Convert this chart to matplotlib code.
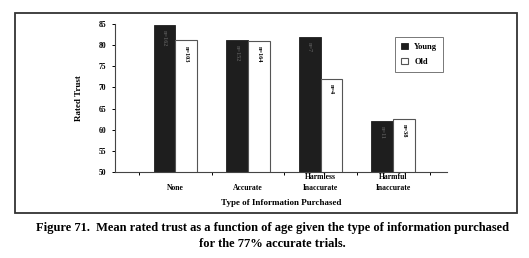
import numpy as np
import matplotlib.pyplot as plt
from matplotlib.patches import Rectangle

plt.rcParams['font.family'] = ['Liberation Serif', 'DejaVu Serif']
plt.rcParams['font.weight'] = 'bold'

# values
categories = ["None", "Accurate", "Harmless\nInaccurate", "Harmful\nInaccurate"]
young = [84.7, 81.3, 82.0, 62.1]
old = [81.1, 80.9, 72.0, 62.6]
young_n = ["n=162", "n=152", "n=7", "n=11"]
old_n = ["n=103", "n=164", "n=4", "n=38"]

W, H = 529, 258
fig = plt.figure(figsize=(W / 100, H / 100), dpi=100)

# outer frame around the chart
fig.patches.append(Rectangle((15 / W, 1 - 213 / H), (517 - 15) / W, (213 - 13) / H,
                             transform=fig.transFigure, fill=False,
                             edgecolor="#333333", lw=1.3))

ax = fig.add_axes([115 / W, 1 - 172 / H, (447 - 115) / W, (172 - 24) / H])

x = np.arange(len(categories))
w = 0.3
ax.bar(x - w / 2, young, w, color="#1e1e1e", edgecolor="#1e1e1e", lw=0.6,
       label="Young")
ax.bar(x + w / 2, old, w, color="white", edgecolor="#555555", lw=0.8, label="Old")

for xi, v, s in zip(x, young, young_n):
    ax.text(xi - w / 2, v - 1.2, s, rotation=270, ha="center", va="top",
            fontsize=4.5, color="#555555")
for xi, v, s in zip(x, old, old_n):
    ax.text(xi + w / 2, v - 1.2, s, rotation=270, ha="center", va="top",
            fontsize=4.5, color="black")

ax.set_ylim(50, 85)
ax.set_xlim(-0.83, 3.74)
ax.set_yticks(np.arange(50, 86, 5))
ax.set_yticklabels([str(t) for t in range(50, 86, 5)], fontsize=5.5, fontweight="bold")
ax.tick_params(axis="y", length=2.5, width=0.7, pad=4)
ax.set_xticks(np.arange(-0.5, 3.6, 1.0))
ax.set_xticklabels([])
ax.tick_params(axis="x", length=2.5, width=0.7)
for xi, c in zip(x, categories):
    ax.text(xi, -20 / 148, c, transform=ax.get_xaxis_transform(), ha="center",
            va="bottom", fontsize=5.5, fontweight="bold", linespacing=1.45)
for sp in ["top", "right"]:
    ax.spines[sp].set_visible(False)
for sp in ["left", "bottom"]:
    ax.spines[sp].set_color("#444444")
    ax.spines[sp].set_linewidth(0.8)

ax.set_ylabel("Rated Trust", fontsize=6.5, fontweight="bold", labelpad=11)
fig.text(281 / W, 1 - 203 / H, "Type of Information Purchased", ha="center",
         va="center", fontsize=6.5, fontweight="bold")

leg = fig.legend(loc="upper left", bbox_to_anchor=(395 / W, 1 - 37 / H),
                 prop={"size": 6, "weight": "bold"}, frameon=True, fancybox=False,
                 edgecolor="#555555", handlelength=0.8, handleheight=0.8,
                 borderpad=0.7, labelspacing=0.8, borderaxespad=0)
leg.get_frame().set_linewidth(0.7)

fig.text(0.515, 1 - 228 / H,
         "Figure 71.  Mean rated trust as a function of age given the type of information purchased",
         ha="center", va="center", fontsize=9.0, fontweight="bold")
fig.text(0.515, 1 - 244 / H, "for the 77% accurate trials.",
         ha="center", va="center", fontsize=9.0, fontweight="bold")

fig.savefig("out.png", dpi=100)
